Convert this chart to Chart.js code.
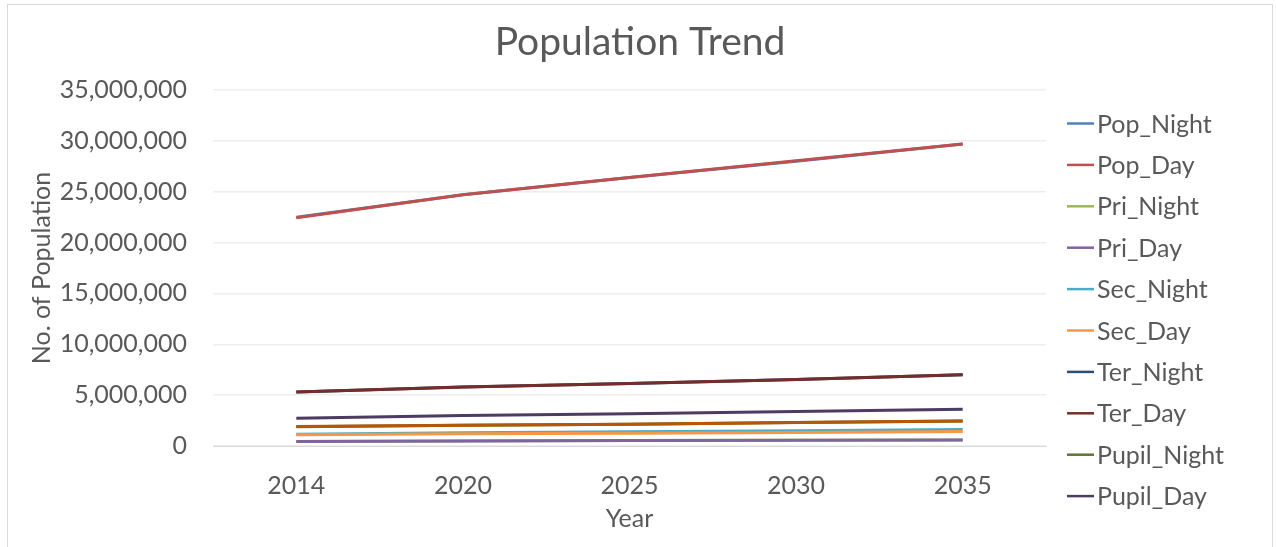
<!DOCTYPE html>
<html>
<head>
<meta charset="utf-8">
<script src="https://cdn.jsdelivr.net/npm/chart.js"></script>
<style>
  body { margin: 0; background: #fff; }
  #wrap { width: 1276px; height: 547px; position: relative; }
</style>
</head>
<body>
<div id="wrap"><canvas id="chart"></canvas></div>
<script>
const years = ['2014', '2020', '2025', '2030', '2035'];

const popNight   = [22500000, 24700000, 26400000, 28000000, 29700000];
const popDay     = [22450000, 24700000, 26400000, 28050000, 29700000];
const priNight   = [450000, 500000, 530000, 570000, 600000];
const priDay     = [450000, 500000, 530000, 570000, 600000];
const secNight   = [1150000, 1300000, 1400000, 1500000, 1620000];
const secDay     = [1100000, 1200000, 1250000, 1330000, 1420000];
const terNight   = [5300000, 5800000, 6150000, 6550000, 7000000];
const terDay     = [5320000, 5800000, 6150000, 6550000, 7000000];
const pupilNight = [1900000, 2050000, 2150000, 2300000, 2450000];
const pupilDay   = [2730000, 3000000, 3180000, 3400000, 3610000];
// extra line visible in the plot but not listed in the legend
const unlisted   = [1910000, 2050000, 2150000, 2300000, 2470000];

const seriesNames = ['Pop_Night', 'Pop_Day', 'Pri_Night', 'Pri_Day', 'Sec_Night',
                     'Sec_Day', 'Ter_Night', 'Ter_Day', 'Pupil_Night', 'Pupil_Day'];
const seriesColors = ['#4F81BD', '#C0504D', '#9BBB59', '#8064A2', '#4BACC6',
                      '#F79646', '#2C4D75', '#772C2A', '#5F7530', '#4D3B62', '#B65708'];
const seriesValues = [popNight, popDay, priNight, priDay, secNight,
                      secDay, terNight, terDay, pupilNight, pupilDay, unlisted];

const yTicks = { min: 0, max: 35000000, step: 5000000 };

const FONT = 'Lato';
const TEXT = '#595959';
const chartTitle = 'Population Trend';

const datasets = seriesValues.map((vals, i) => ({
    label: seriesNames[i] || '',
    data: vals,
    borderColor: seriesColors[i],
    backgroundColor: seriesColors[i],
    borderWidth: 3,
    pointRadius: 0,
    tension: 0,
    fill: false,
    order: seriesValues.length - i   // later series on top, like the original
}));

// chart border, title and legend drawn at fixed spots
const frame = {
    id: 'frame',
    afterDraw(chart) {
        const ctx = chart.ctx;
        ctx.save();
        ctx.strokeStyle = '#D9D9D9';
        ctx.lineWidth = 1;
        ctx.strokeRect(7.5, 4.5, 1265, 560);

        ctx.fillStyle = TEXT;
        ctx.font = '39px ' + FONT;
        ctx.textAlign = 'center';
        ctx.textBaseline = 'middle';
        ctx.fillText(chartTitle, 640, 42);

        ctx.font = '25px ' + FONT;
        ctx.textAlign = 'left';
        seriesNames.forEach((name, i) => {
            const y = 123.5 + i * 41.4;
            ctx.strokeStyle = seriesColors[i];
            ctx.lineWidth = 2.5;
            ctx.beginPath();
            ctx.moveTo(1067, y);
            ctx.lineTo(1094, y);
            ctx.stroke();
            ctx.fillStyle = TEXT;
            ctx.fillText(name, 1097, y + 1);
        });
        ctx.restore();
    }
};

new Chart(document.getElementById('chart'), {
    type: 'line',
    data: { labels: years, datasets },
    plugins: [frame],
    options: {
        responsive: true,
        maintainAspectRatio: false,
        animation: false,
        layout: { padding: { left: 23, right: 230, top: 90, bottom: 9 } },
        plugins: {
            legend: { display: false },
            tooltip: { enabled: false },
            title: { display: false }
        },
        scales: {
            x: {
                offset: true,
                grid: { display: false, drawTicks: false },
                border: { color: '#D9D9D9', width: 1 },
                ticks: { color: TEXT, font: { family: FONT, size: 25 }, padding: 25, maxRotation: 0 },
                title: { display: true, text: 'Year', color: TEXT, font: { family: FONT, size: 25 } },
                afterFit(scale) { scale.height = 92; }
            },
            y: {
                min: yTicks.min,
                max: yTicks.max,
                grid: { color: '#EEEEEE', lineWidth: 1.5, drawTicks: false },
                border: { display: false },
                ticks: {
                    stepSize: yTicks.step,
                    color: TEXT,
                    font: { family: FONT, size: 25 },
                    padding: 26,
                    callback: v => v.toLocaleString('en-US')
                },
                title: { display: true, text: 'No. of Population', color: TEXT, font: { family: FONT, size: 25 } },
                afterFit(scale) { scale.width = 190; }
            }
        }
    }
});
</script>
</body>
</html>
